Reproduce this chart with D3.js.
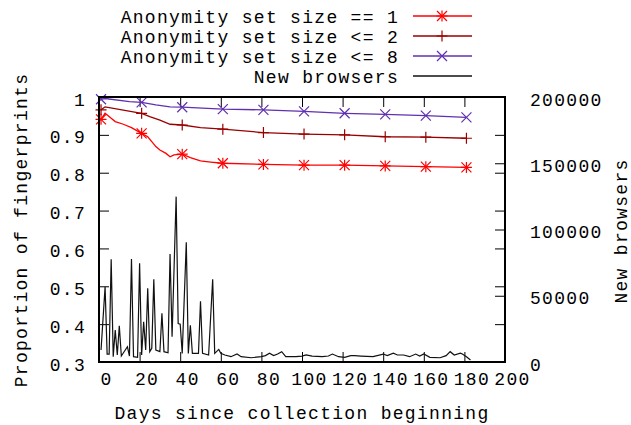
<!DOCTYPE html>
<html>
<head>
<meta charset="utf-8">
<script src="https://cdn.jsdelivr.net/npm/d3@7"></script>
<style>
body { margin: 0; background: white; }
svg text { font-family: "Liberation Mono", "Courier New", monospace; font-size: 18px; letter-spacing: 1.3px; fill: black; }
</style>
</head>
<body>
<script>
const width = 631;
const height = 425;
const plotLeft = 99, plotRight = 505, plotTop = 97, plotBottom = 362;

// series names / legend
const seriesNames = ['Anonymity set size == 1', 'Anonymity set size <= 2', 'Anonymity set size <= 8', 'New browsers'];
const seriesColors = ['#ff0000', '#990000', '#6030b0', '#111111'];
const seriesMarkers = ['star', 'plus', 'times', 'none'];

// proportion of fingerprints (left axis)
const size1Days = [1, 3, 6, 8, 12, 16, 21, 24, 26, 28, 30, 33, 35, 37, 41, 45, 50, 55, 61, 81, 101, 121, 141, 161, 181];
const size1Vals = [0.941, 0.957, 0.944, 0.935, 0.928, 0.919, 0.904, 0.895, 0.882, 0.869, 0.860, 0.851, 0.842, 0.847, 0.849, 0.840, 0.831, 0.828, 0.825, 0.822, 0.820, 0.820, 0.818, 0.816, 0.814];

const size2Days = [1, 3, 21, 25, 30, 35, 41, 50, 61, 81, 101, 121, 141, 161, 181];
const size2Vals = [0.966, 0.974, 0.957, 0.948, 0.939, 0.928, 0.926, 0.919, 0.915, 0.906, 0.902, 0.900, 0.895, 0.894, 0.891];

const size8Days = [1, 3, 15, 21, 28, 35, 41, 61, 81, 101, 121, 141, 161, 181];
const size8Vals = [0.994, 0.996, 0.988, 0.986, 0.979, 0.974, 0.973, 0.968, 0.966, 0.962, 0.957, 0.954, 0.951, 0.946];

const markerDays = [1, 21, 41, 61, 81, 101, 121, 141, 161, 181];

// new browsers per day (right axis)
const browserDays = [1, 3, 4, 5, 6, 7, 8, 9, 10, 11, 14, 15, 16, 17, 19, 20, 21, 22, 23, 24, 25, 26, 27, 28, 30, 31, 32, 34, 35, 36, 38, 39, 40, 41, 43, 44, 45, 46, 49, 50, 51, 54, 56, 57, 59, 60, 62, 65, 68, 70, 75, 80, 82, 84, 86, 88, 90, 92, 97, 100, 102, 105, 110, 113, 115, 118, 121, 124, 126, 129, 135, 140, 142, 145, 147, 150, 153, 156, 158, 160, 163, 168, 171, 173, 175, 178, 179, 181, 183];
const browserCounts = [9000, 56800, 6000, 6000, 77500, 4000, 24100, 5300, 27400, 4500, 11500, 4500, 77700, 4000, 3500, 74500, 5300, 30400, 9000, 55600, 7800, 10300, 62400, 9000, 7800, 36800, 7800, 7000, 81500, 19100, 124800, 29000, 28500, 6500, 90300, 6500, 27700, 6500, 6500, 45800, 6500, 5300, 62400, 6500, 9500, 6500, 5300, 4000, 6000, 4000, 3200, 4000, 4800, 6600, 4800, 6000, 7800, 4000, 4000, 4500, 5300, 4500, 4000, 4500, 6000, 4000, 3500, 4800, 4800, 4500, 4000, 6000, 4800, 6600, 5300, 5300, 4000, 6000, 4500, 6000, 3500, 3200, 4800, 7800, 5300, 6600, 6000, 4000, 1500];

// ticks
const xTicks = [0, 20, 40, 60, 80, 100, 120, 140, 160, 180, 200];
const leftTicks = [0.3, 0.4, 0.5, 0.6, 0.7, 0.8, 0.9, 1];
const rightTicks = [0, 50000, 100000, 150000, 200000];

let svg = d3.select('body')
    .append('svg')
    .attr('width', width)
    .attr('height', height);

let x = d3.scaleLinear().domain([0, 200]).range([plotLeft, plotRight]);
let y = d3.scaleLinear().domain([0.3, 1]).range([plotBottom, plotTop]);
let y2 = d3.scaleLinear().domain([0, 200000]).range([plotBottom, plotTop]);

// axes, ticks pointing inwards
let noDomain = g => g.select('.domain').remove();

let xAxis = svg.append('g')
    .attr('transform', `translate(0,${plotBottom})`)
    .call(d3.axisBottom(x).tickValues(xTicks).tickSize(-10).tickPadding(10).tickFormat(d3.format('d')))
    .call(noDomain);
xAxis.selectAll('text').attr('dx', 7);

svg.append('g')
    .attr('transform', `translate(0,${plotTop})`)
    .call(d3.axisTop(x).tickValues(xTicks).tickSize(-10).tickFormat(''))
    .call(noDomain);

let yAxis = svg.append('g')
    .attr('transform', `translate(${plotLeft},0)`)
    .call(d3.axisLeft(y).tickValues(leftTicks).tickSize(-10).tickPadding(13).tickFormat(d3.format('~g')))
    .call(noDomain);
yAxis.selectAll('text').attr('dy', '0.45em');

svg.append('g')
    .attr('transform', `translate(${plotRight},0)`)
    .call(d3.axisRight(y).tickValues(leftTicks).tickSize(-10).tickFormat(''))
    .call(noDomain);

let y2Axis = svg.append('g')
    .attr('transform', `translate(${plotRight},0)`)
    .call(d3.axisRight(y2).tickValues(rightTicks).tickSize(-10).tickPadding(25).tickFormat(d3.format('d')))
    .call(noDomain);
y2Axis.selectAll('text').attr('dy', '0.45em');

svg.selectAll('.tick line').attr('stroke', '#000').attr('stroke-width', 1);

// series
let lineGen = d3.line().x(d => x(d[0])).y(d => y(d[1]));
let lineGen2 = d3.line().x(d => x(d[0])).y(d => y2(d[1]));

let propSeries = [
    d3.zip(size1Days, size1Vals),
    d3.zip(size2Days, size2Vals),
    d3.zip(size8Days, size8Vals)
];

// marker shapes from d3 symbols, r = half arm length
function plusPath(r) {
    return d3.symbol(d3.symbolPlus, Math.pow(r / 0.87559, 2) + 2)();
}
function timesPath(r) {
    return d3.symbol(d3.symbolTimes, Math.pow(r / 0.6189, 2) + 1.7)();
}
function drawMarker(g, type, cx, cy, color) {
    let paths = [];
    if (type === 'plus' || type === 'star') paths.push(plusPath(5.5));
    if (type === 'times' || type === 'star') paths.push(timesPath(5));
    paths.forEach(p => {
        g.append('path')
            .attr('d', p)
            .attr('transform', `translate(${cx},${cy})`)
            .attr('fill', 'none')
            .attr('stroke', color)
            .attr('stroke-width', 1.2);
    });
}

svg.append('path')
    .datum(d3.zip(browserDays, browserCounts))
    .attr('d', lineGen2)
    .attr('fill', 'none')
    .attr('stroke', seriesColors[3])
    .attr('stroke-width', 1.2);

propSeries.forEach((data, i) => {
    svg.append('path')
        .datum(data)
        .attr('d', lineGen)
        .attr('fill', 'none')
        .attr('stroke', seriesColors[i])
        .attr('stroke-width', 1.3);
    let mg = svg.append('g');
    data.filter(d => markerDays.includes(d[0])).forEach(d => {
        drawMarker(mg, seriesMarkers[i], x(d[0]), y(d[1]), seriesColors[i]);
    });
});

// border
svg.append('rect')
    .attr('x', plotLeft)
    .attr('y', plotTop)
    .attr('width', plotRight - plotLeft)
    .attr('height', plotBottom - plotTop)
    .attr('fill', 'none')
    .attr('stroke', '#000')
    .attr('stroke-width', 2);

// legend
let legend = svg.append('g');
seriesNames.forEach((name, i) => {
    let base = 23 + i * 20;
    legend.append('text')
        .attr('x', 399)
        .attr('y', base)
        .attr('text-anchor', 'end')
        .text(name);
    legend.append('line')
        .attr('x1', 413).attr('x2', 472)
        .attr('y1', base - 7).attr('y2', base - 7)
        .attr('stroke', seriesColors[i])
        .attr('stroke-width', 1.3);
    drawMarker(legend, seriesMarkers[i], 442, base - 7, seriesColors[i]);
});

// axis titles
svg.append('text')
    .attr('x', 302)
    .attr('y', 419)
    .attr('text-anchor', 'middle')
    .text('Days since collection beginning');

svg.append('text')
    .attr('transform', 'translate(27,230) rotate(-90)')
    .attr('text-anchor', 'middle')
    .text('Proportion of fingerprints');

svg.append('text')
    .attr('transform', 'translate(627,231) rotate(-90)')
    .attr('text-anchor', 'middle')
    .text('New browsers');
</script>
</body>
</html>
